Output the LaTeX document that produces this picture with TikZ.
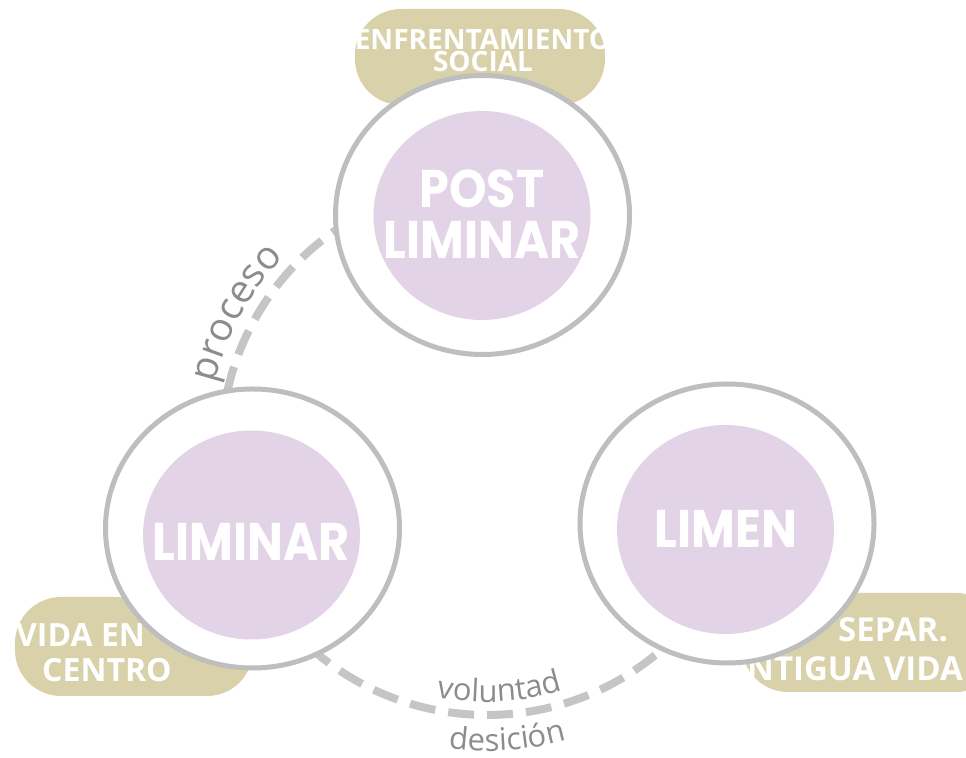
\documentclass[tikz,border=0pt]{standalone}
\usepackage{fontspec}
\usetikzlibrary{shapes.geometric, decorations.text}
\newfontfamily\circfont{Poppins}[FakeStretch=0.9]
\newfontfamily\pillfont{Open Sans}
\newfontfamily\labfont{Open Sans}
\definecolor{pillcol}{HTML}{D8D1A9}
\definecolor{lila}{HTML}{E3D3E7}
\definecolor{ringgray}{HTML}{BEBEBE}
\definecolor{dashgray}{HTML}{C5C5C5}
\definecolor{labgray}{HTML}{8C8C8C}

\begin{document}
\begin{tikzpicture}[x=1bp, y=1bp,
  pill/.style={rectangle, rounded corners=46bp, fill=pillcol, inner sep=0pt},
  pilltext/.style={text=white, font=\pillfont\bfseries\fontsize{#1}{#1}\selectfont, inner sep=0pt, anchor=base west},
  ring/.style={ellipse, draw=ringgray, line width=5bp, fill=white, minimum width=294bp, minimum height=279bp, inner sep=0pt},
  core/.style={ellipse, fill=lila, minimum width=217bp, minimum height=209bp, inner sep=0pt},
  ctext/.style={text=white, align=center, inner sep=0pt,
    font=\circfont\bfseries\fontsize{53bp}{51bp}\selectfont},
  dashlink/.style={draw=dashgray, line width=8bp, dash pattern=on 26bp off 13bp}]

\useasboundingbox (0,0) rectangle (966,758);

%% 三个标签框(先画, 被圆盖住)
\node[pill, minimum width=250bp, minimum height=96bp] (pillTop) at (480,701) {};
\node[pilltext=28bp, anchor=base] (tEnf) at (483,708) {ENFRENTAMIENTO};
\node[pilltext=28bp, anchor=base] (tSoc) at (483,686) {SOCIAL};

\node[pill, minimum width=238bp, minimum height=99bp] (pillLeft) at (134,111.5) {};
\node[pilltext=32bp] (tVida) at (16,111) {VIDA EN};
\node[pilltext=32bp] (tCentro) at (42,76) {CENTRO};

\node[pill, minimum width=260bp, minimum height=99bp] (pillRight) at (872,115.5) {};
\node[pilltext=33bp] (tSepar) at (838,116) {SEPAR.};
\node[pilltext=33bp] (tAntigua) at (747,77) {NTIGUA VIDA};

%% 虚线大圆的圆心
\coordinate (ctr) at (487,309);
\draw[dashlink] ([shift={(120:266bp)}]ctr) arc[start angle=120, end angle=172, radius=266bp];
\draw[dashlink] ([shift={(228:266bp)}]ctr) arc[start angle=228, end angle=313, radius=266bp];

%% 三个圆
\node[ring] (post) at (482.5,543) {};
\node[core] (postcore) at (482,542.5) {};
\node[ctext] (postlab) at (482,544) {POST\\LIMINAR};
\node[ring] (liminar) at (252.5,229.5) {};
\node[core] (liminarcore) at (251.5,223) {};
\node[ctext] (liminarlab) at (251,216.5) {LIMINAR};
\node[ring] (limen) at (727,234.5) {};
\node[core] (limencore) at (725.5,228.5) {};
\node[ctext] (limenlab) at (726,229.5) {LIMEN};

%% 沿弧线的文字
\path[decorate, decoration={text along path, text align=center,
  text={|\labfont\fontsize{39bp}{39bp}\selectfont\color{labgray}|proceso}}]
  ([shift={(173:280bp)}]ctr) arc[start angle=173, end angle=130, radius=280bp];
\path[decorate, decoration={text along path, text align=center,
  text={|\labfont\fontsize{31bp}{31bp}\selectfont\color{labgray}|voluntad}}]
  ([shift={(253:253bp)}]ctr) arc[start angle=253, end angle=293, radius=253bp];
\path[decorate, decoration={text along path, text align=center,
  text={|\labfont\fontsize{31bp}{31bp}\selectfont\color{labgray}|desición}}]
  ([shift={(257:302bp)}]ctr) arc[start angle=257, end angle=291, radius=302bp];

\end{tikzpicture}
\end{document}
